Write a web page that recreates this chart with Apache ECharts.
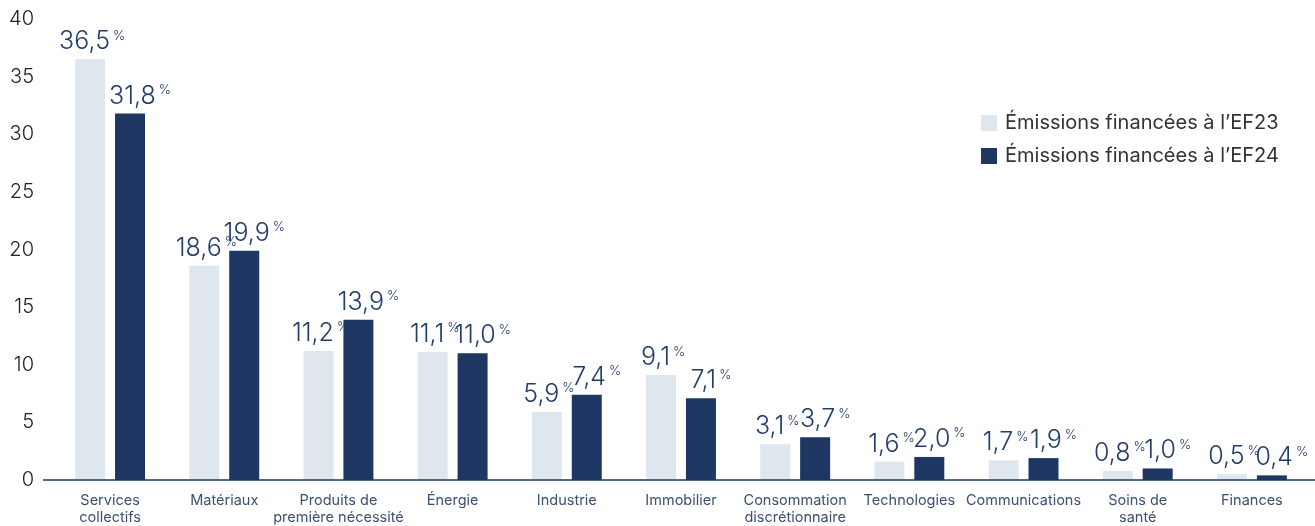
<!DOCTYPE html>
<html>
<head>
<meta charset="utf-8">
<script src="https://cdn.jsdelivr.net/npm/echarts@6/dist/echarts.min.js"></script>
<style>html,body{margin:0;padding:0;background:#fff}#c{width:1315px;height:526px}</style>
</head>
<body>
<div id="c"></div>
<script>
const categories = ["Services\ncollectifs", "Matériaux", "Produits de\npremière nécessité", "Énergie", "Industrie", "Immobilier", "Consommation\ndiscrétionnaire", "Technologies", "Communications", "Soins de\nsanté", "Finances"];
const ef23 = [36.5, 18.6, 11.2, 11.1, 5.9, 9.1, 3.1, 1.6, 1.7, 0.8, 0.5];
const ef24 = [31.8, 19.9, 13.9, 11.0, 7.4, 7.1, 3.7, 2.0, 1.9, 1.0, 0.4];
const seriesNames = ["Émissions financées à l’EF23", "Émissions financées à l’EF24"];
const yTicks = [0, 5, 10, 15, 20, 25, 30, 35, 40];

const FONT = "Inter, 'Noto Sans', sans-serif";
function labelCfg(dx) {
  return {
    show: true,
    position: 'top',
    distance: 5,
    offset: [dx, 0],
    formatter: p => '{v|' + p.value.toFixed(1).replace('.', ',') + '}{p|%}',
    rich: {
      v: { fontSize: 25, color: '#213d6b', fontFamily: FONT, fontWeight: 300 },
      p: { fontSize: 13, color: '#213d6b', fontFamily: FONT, fontWeight: 300, padding: [0, 0, 12, 3] }
    }
  };
}

const chart = echarts.init(document.getElementById('c'), null, { renderer: 'canvas' });
chart.setOption({
  animation: false,
  backgroundColor: '#ffffff',
  grid: { left: 53, right: 6, top: 19, bottom: 46, containLabel: false, outerBoundsMode: 'none' },
  legend: {
    orient: 'vertical',
    left: 976,
    top: 108,
    itemWidth: 16,
    itemHeight: 16,
    itemGap: 13,
    icon: 'rect',
    textStyle: { fontSize: 20, color: '#333', fontFamily: FONT, padding: [0, 0, 0, 3] },
    data: seriesNames
  },
  xAxis: {
    type: 'category',
    data: categories,
    axisLine: { show: false },
    axisTick: { show: false },
    axisLabel: { fontSize: 14.5, color: '#3d5070', fontFamily: FONT, margin: 12, lineHeight: 17, interval: 0 }
  },
  yAxis: {
    type: 'value',
    min: 0,
    max: 40,
    interval: 5,
    splitLine: { show: false },
    axisLine: { show: false },
    axisTick: { show: false },
    axisLabel: {
      fontSize: 20, color: '#222', fontFamily: FONT, fontWeight: 300, margin: 19,
      formatter: v => yTicks.includes(v) ? String(v) : ''
    }
  },
  series: [
    { name: seriesNames[0], type: 'bar', data: ef23, barWidth: 30, barGap: '33%',
      itemStyle: { color: '#dfe7ee' }, label: labelCfg(2) },
    { name: seriesNames[1], type: 'bar', data: ef24, barWidth: 30, barGap: '33%',
      itemStyle: { color: '#1e3762' }, label: labelCfg(10) }
  ]
});
// baseline (x axis line) extending slightly left of the plot, at y = 0 from the library's scale
const y0 = chart.convertToPixel({ yAxisIndex: 0 }, 0);
chart.setOption({
  graphic: [{
    type: 'line', z: 10,
    shape: { x1: 43, y1: y0, x2: 1315, y2: y0 },
    style: { stroke: '#1e3762', lineWidth: 1.5 }
  }]
});
</script>
</body>
</html>
